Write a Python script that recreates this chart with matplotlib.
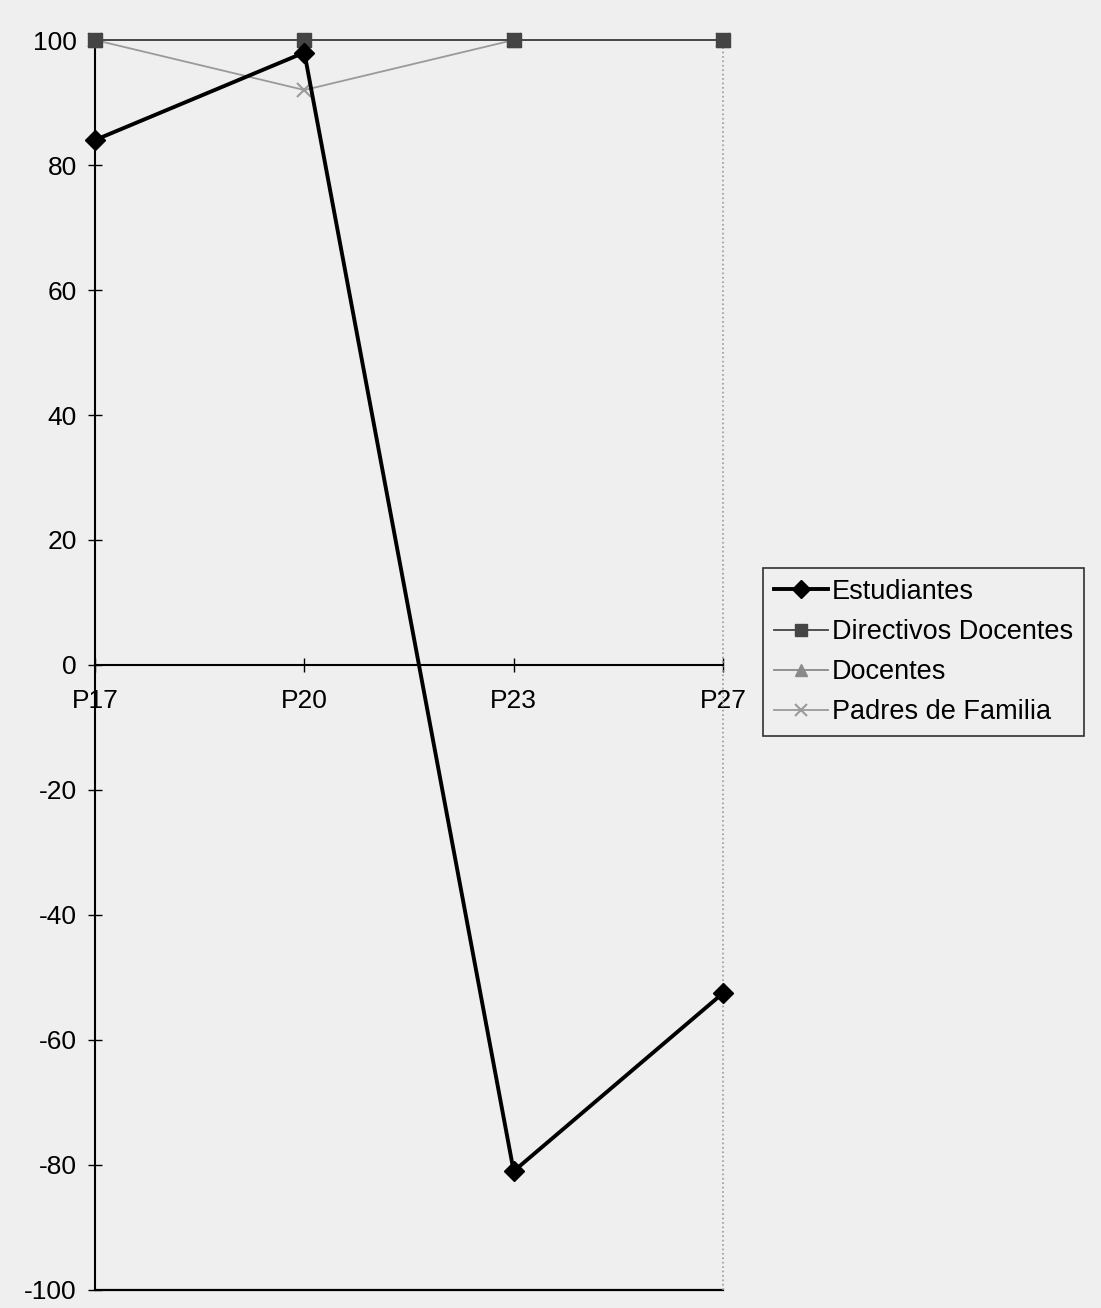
import numpy as np
import matplotlib.pyplot as plt

categorias = ["P17", "P20", "P23", "P27"]
estudiantes = [84, 98, -81, -52.5]
directivos = [100, 100, 100, 100]
docentes = [100, 100, 100, 100]
padres = [100, 92, 100, 100]
yticks = [-100, -80, -60, -40, -20, 0, 20, 40, 60, 80, 100]

plt.rcParams["font.family"] = ["Liberation Sans", "DejaVu Sans"]
plt.rcParams["axes.unicode_minus"] = False
fondo = "#efefef"

fig = plt.figure(figsize=(11.01, 13.08), dpi=100, facecolor=fondo)
ax = fig.add_axes([0.0863, 0.0138, 0.5704, 0.9556])
ax.set_facecolor(fondo)

x = np.arange(len(categorias))

ax.plot(x, padres, color="#9a9a9a", lw=1.3, marker="x", ms=10, mew=1.5,
        label="Padres de Familia", zorder=3, clip_on=False)
ax.plot(x, docentes, color="#8a8a8a", lw=1.3, marker="^", ms=10,
        label="Docentes", zorder=4, clip_on=False)
ax.plot(x, directivos, color="#444444", lw=1.3, marker="s", ms=10,
        label="Directivos Docentes", zorder=5, clip_on=False)
ax.plot(x, estudiantes, color="black", lw=2.8, marker="D", ms=10,
        label="Estudiantes", zorder=6, clip_on=False)

ax.set_xlim(0, 3)
ax.set_ylim(-100, 100)

# eje de categorias en y = 0
ax.spines["bottom"].set_position(("data", 0))
ax.spines["top"].set_visible(False)
ax.spines["right"].set_visible(False)
ax.spines["left"].set_linewidth(1.5)
ax.spines["bottom"].set_linewidth(1.5)
ax.axhline(-100, color="black", lw=1.6, clip_on=False)
ax.axvline(3, color="#999999", lw=1.2, ls=":", clip_on=False)

ax.set_xticks(x)
ax.set_xticklabels(categorias)
ax.set_yticks(yticks)
ax.tick_params(axis="both", direction="inout", length=10, width=1, labelsize=19)
ax.tick_params(axis="x", pad=12)
ax.tick_params(axis="y", pad=8)

h, l = ax.get_legend_handles_labels()
orden = [3, 2, 1, 0]
leg = fig.legend([h[i] for i in orden], [l[i] for i in orden],
                 loc="upper left", bbox_to_anchor=(0.693, 0.5657),
                 borderaxespad=0, fontsize=19.5, frameon=True, fancybox=False,
                 facecolor=fondo, edgecolor="black", handlelength=2.0,
                 handletextpad=0.15, labelspacing=0.52, borderpad=0.4,
                 markerscale=0.9)
leg.get_frame().set_linewidth(1.2)

fig.savefig("out.png", dpi=100, facecolor=fondo)
